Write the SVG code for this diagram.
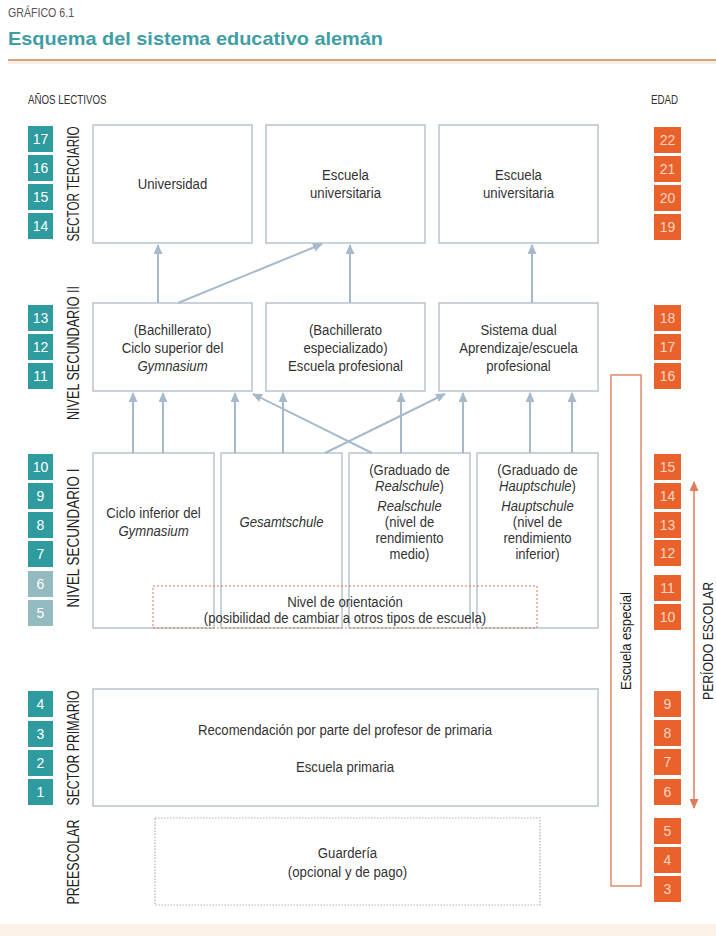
<svg xmlns="http://www.w3.org/2000/svg" width="716" height="936" viewBox="0 0 716 936">
<style>
text{font-family:"Liberation Sans",Arial,sans-serif;fill:#333}
.n{font-size:15.5px;text-anchor:middle}
.s{font-size:14.5px;text-anchor:middle}
.i{font-style:italic}
.box{fill:#fff;stroke:#b6c4ce;stroke-width:1.5}
.yr{fill:#2e9c9f}
.yl{fill:#93babe}
.ag{fill:#e9612b}
.yt{font-size:14px;text-anchor:middle;fill:#fff}
.at{font-size:14px;text-anchor:middle;fill:#fcd6c2}
.vl{font-size:16px;text-anchor:middle;fill:#222}
.con{stroke:#a6bacb;stroke-width:2;fill:none;marker-end:url(#ah)}
</style>
<defs>
<marker id="ah" markerUnits="userSpaceOnUse" markerWidth="10" markerHeight="9" refX="9" refY="4.5" orient="auto"><path d="M0,0 L10,4.5 L0,9 z" fill="#a6bacb"/></marker>
<marker id="oh" markerUnits="userSpaceOnUse" markerWidth="10" markerHeight="9" refX="9" refY="4.5" orient="auto-start-reverse"><path d="M0,0 L10,4.5 L0,9 z" fill="#e07a58"/></marker>
</defs>
<rect width="716" height="936" fill="#fff"/>
<g id="header">
<text transform="translate(8 17) scale(0.85 1)" style="font-size:12.5px;fill:#555">GRÁFICO 6.1</text>
<text x="8" y="45" textLength="375" lengthAdjust="spacingAndGlyphs" style="font-size:19px;font-weight:bold;fill:#3f9ea4">Esquema del sistema educativo alemán</text>
<line x1="8" y1="60" x2="716" y2="60" stroke="#c98556" stroke-width="1.5"/>
<rect x="8" y="61" width="708" height="3" fill="#fbeee4"/>
<text transform="translate(28 104) scale(0.75 1)" style="font-size:13px">AÑOS LECTIVOS</text>
<text transform="translate(651 104) scale(0.75 1)" style="font-size:13px">EDAD</text>
</g>
<g id="years">
<rect class="yr" x="28" y="126" width="25" height="26"/><text class="yt" x="40.5" y="144">17</text>
<rect class="yr" x="28" y="155" width="25" height="26"/><text class="yt" x="40.5" y="173">16</text>
<rect class="yr" x="28" y="184" width="25" height="26"/><text class="yt" x="40.5" y="202">15</text>
<rect class="yr" x="28" y="213" width="25" height="26"/><text class="yt" x="40.5" y="231">14</text>
<rect class="yr" x="28" y="305" width="25" height="26"/><text class="yt" x="40.5" y="323">13</text>
<rect class="yr" x="28" y="334" width="25" height="26"/><text class="yt" x="40.5" y="352">12</text>
<rect class="yr" x="28" y="363" width="25" height="26"/><text class="yt" x="40.5" y="381">11</text>
<rect class="yr" x="28" y="454" width="25" height="26"/><text class="yt" x="40.5" y="472">10</text>
<rect class="yr" x="28" y="483" width="25" height="26"/><text class="yt" x="40.5" y="501">9</text>
<rect class="yr" x="28" y="512" width="25" height="26"/><text class="yt" x="40.5" y="530">8</text>
<rect class="yr" x="28" y="541" width="25" height="26"/><text class="yt" x="40.5" y="559">7</text>
<rect class="yl" x="28" y="571" width="25" height="26"/><text class="yt" x="40.5" y="589">6</text>
<rect class="yl" x="28" y="600" width="25" height="26"/><text class="yt" x="40.5" y="618">5</text>
<rect class="yr" x="28" y="691" width="25" height="26"/><text class="yt" x="40.5" y="709">4</text>
<rect class="yr" x="28" y="721" width="25" height="26"/><text class="yt" x="40.5" y="739">3</text>
<rect class="yr" x="28" y="750" width="25" height="26"/><text class="yt" x="40.5" y="768">2</text>
<rect class="yr" x="28" y="779" width="25" height="26"/><text class="yt" x="40.5" y="797">1</text>
</g>
<g id="levels">
<text class="vl" transform="translate(79,184) rotate(-90)" textLength="115" lengthAdjust="spacingAndGlyphs">SECTOR TERCIARIO</text>
<text class="vl" transform="translate(79,353) rotate(-90)" textLength="134" lengthAdjust="spacingAndGlyphs">NIVEL SECUNDARIO II</text>
<text class="vl" transform="translate(79,538) rotate(-90)" textLength="139" lengthAdjust="spacingAndGlyphs">NIVEL SECUNDARIO I</text>
<text class="vl" transform="translate(79,748) rotate(-90)" textLength="115" lengthAdjust="spacingAndGlyphs">SECTOR PRIMARIO</text>
<text class="vl" transform="translate(79,862) rotate(-90)" textLength="85" lengthAdjust="spacingAndGlyphs">PREESCOLAR</text>
</g>
<g id="ages">
<rect class="ag" x="654" y="127" width="27" height="26"/><text class="at" x="667.5" y="145">22</text>
<rect class="ag" x="654" y="156" width="27" height="26"/><text class="at" x="667.5" y="174">21</text>
<rect class="ag" x="654" y="185" width="27" height="26"/><text class="at" x="667.5" y="203">20</text>
<rect class="ag" x="654" y="214" width="27" height="26"/><text class="at" x="667.5" y="232">19</text>
<rect class="ag" x="654" y="305" width="27" height="26"/><text class="at" x="667.5" y="323">18</text>
<rect class="ag" x="654" y="334" width="27" height="26"/><text class="at" x="667.5" y="352">17</text>
<rect class="ag" x="654" y="363" width="27" height="26"/><text class="at" x="667.5" y="381">16</text>
<rect class="ag" x="654" y="454" width="27" height="26"/><text class="at" x="667.5" y="472">15</text>
<rect class="ag" x="654" y="483" width="27" height="26"/><text class="at" x="667.5" y="501">14</text>
<rect class="ag" x="654" y="512" width="27" height="26"/><text class="at" x="667.5" y="530">13</text>
<rect class="ag" x="654" y="540" width="27" height="26"/><text class="at" x="667.5" y="558">12</text>
<rect class="ag" x="654" y="575" width="27" height="26"/><text class="at" x="667.5" y="593">11</text>
<rect class="ag" x="654" y="604" width="27" height="26"/><text class="at" x="667.5" y="622">10</text>
<rect class="ag" x="654" y="691" width="27" height="26"/><text class="at" x="667.5" y="709">9</text>
<rect class="ag" x="654" y="720" width="27" height="26"/><text class="at" x="667.5" y="738">8</text>
<rect class="ag" x="654" y="749" width="27" height="26"/><text class="at" x="667.5" y="767">7</text>
<rect class="ag" x="654" y="779" width="27" height="26"/><text class="at" x="667.5" y="797">6</text>
<rect class="ag" x="654" y="818" width="27" height="26"/><text class="at" x="667.5" y="836">5</text>
<rect class="ag" x="654" y="847" width="27" height="26"/><text class="at" x="667.5" y="865">4</text>
<rect class="ag" x="654" y="876" width="27" height="26"/><text class="at" x="667.5" y="894">3</text>
</g>
<g id="universidad"><rect class="box" x="93" y="125" width="159" height="118"/><text class="n" transform="translate(172.5 189) scale(0.85 1)">Universidad</text></g>
<g id="escuela-universitaria-1"><rect class="box" x="266" y="125" width="159" height="118"/><text class="n" transform="translate(345.5 180) scale(0.85 1)">Escuela</text><text class="n" transform="translate(345.5 198) scale(0.85 1)">universitaria</text></g>
<g id="escuela-universitaria-2"><rect class="box" x="439" y="125" width="159" height="118"/><text class="n" transform="translate(518.5 180) scale(0.85 1)">Escuela</text><text class="n" transform="translate(518.5 198) scale(0.85 1)">universitaria</text></g>
<g id="gymnasium-superior"><rect class="box" x="93" y="303" width="159" height="88"/><text class="n" transform="translate(172.5 335) scale(0.85 1)">(Bachillerato)</text><text class="n" transform="translate(172.5 353) scale(0.85 1)">Ciclo superior del</text><text class="n i" transform="translate(172.5 371) scale(0.85 1)">Gymnasium</text></g>
<g id="escuela-profesional"><rect class="box" x="266" y="303" width="159" height="88"/><text class="n" transform="translate(345.5 335) scale(0.85 1)">(Bachillerato</text><text class="n" transform="translate(345.5 353) scale(0.85 1)">especializado)</text><text class="n" transform="translate(345.5 371) scale(0.85 1)">Escuela profesional</text></g>
<g id="sistema-dual"><rect class="box" x="439" y="303" width="159" height="88"/><text class="n" transform="translate(518.5 335) scale(0.85 1)">Sistema dual</text><text class="n" transform="translate(518.5 353) scale(0.85 1)">Aprendizaje/escuela</text><text class="n" transform="translate(518.5 371) scale(0.85 1)">profesional</text></g>
<g id="gymnasium-inferior"><rect class="box" x="93" y="453" width="121" height="175"/><text class="n" transform="translate(153.5 518) scale(0.85 1)">Ciclo inferior del</text><text class="n i" transform="translate(153.5 536) scale(0.85 1)">Gymnasium</text></g>
<g id="gesamtschule"><rect class="box" x="221" y="453" width="121" height="175"/><text class="n i" transform="translate(281.5 527) scale(0.85 1)">Gesamtschule</text></g>
<g id="realschule"><rect class="box" x="349" y="453" width="121" height="175"/><text class="s" transform="translate(409.5 475) scale(0.9 1)">(Graduado de</text><text class="s" transform="translate(409.5 491) scale(0.9 1)"><tspan class="i">Realschule</tspan>)</text><text class="s i" transform="translate(409.5 511) scale(0.9 1)">Realschule</text><text class="s" transform="translate(409.5 527) scale(0.9 1)">(nivel de</text><text class="s" transform="translate(409.5 543) scale(0.9 1)">rendimiento</text><text class="s" transform="translate(409.5 559) scale(0.9 1)">medio)</text></g>
<g id="hauptschule"><rect class="box" x="477" y="453" width="121" height="175"/><text class="s" transform="translate(537.5 475) scale(0.9 1)">(Graduado de</text><text class="s" transform="translate(537.5 491) scale(0.9 1)"><tspan class="i">Hauptschule</tspan>)</text><text class="s i" transform="translate(537.5 511) scale(0.9 1)">Hauptschule</text><text class="s" transform="translate(537.5 527) scale(0.9 1)">(nivel de</text><text class="s" transform="translate(537.5 543) scale(0.9 1)">rendimiento</text><text class="s" transform="translate(537.5 559) scale(0.9 1)">inferior)</text></g>
<g id="orientacion"><rect x="153" y="586" width="384" height="42" fill="none" stroke="#e07050" stroke-width="1" stroke-dasharray="2 2"/><text class="n" transform="translate(345 607) scale(0.85 1)">Nivel de orientación</text><text class="n" transform="translate(345 623) scale(0.85 1)">(posibilidad de cambiar a otros tipos de escuela)</text></g>
<g id="primaria"><rect class="box" x="93" y="689" width="505" height="117"/><text class="n" transform="translate(345 735) scale(0.85 1)">Recomendación por parte del profesor de primaria</text><text class="n" transform="translate(345 772) scale(0.85 1)">Escuela primaria</text></g>
<g id="guarderia"><rect x="155" y="818" width="385" height="87" fill="none" stroke="#aab3bb" stroke-width="1.2" stroke-dasharray="1.5 1.5"/><text class="n" transform="translate(347.5 858) scale(0.85 1)">Guardería</text><text class="n" transform="translate(347.5 877) scale(0.85 1)">(opcional y de pago)</text></g>
<g id="escuela-especial"><rect x="611" y="375" width="30" height="511" fill="none" stroke="#e08a6a" stroke-width="1.5"/><text transform="translate(631,641) rotate(-90)" textLength="98" lengthAdjust="spacingAndGlyphs" style="font-size:15px;text-anchor:middle;fill:#222">Escuela especial</text></g>
<g id="periodo-escolar"><line x1="694" y1="808" x2="694" y2="482" stroke="#e07a58" stroke-width="1.5" marker-start="url(#oh)" marker-end="url(#oh)"/><text transform="translate(713,641) rotate(-90)" textLength="118" lengthAdjust="spacingAndGlyphs" style="font-size:15px;text-anchor:middle;fill:#222">PERÍODO ESCOLAR</text></g>
<g id="connectors">
<line class="con" x1="158" y1="303" x2="158" y2="245"/>
<line class="con" x1="178" y1="303" x2="322" y2="244"/>
<line class="con" x1="350" y1="303" x2="350" y2="245"/>
<line class="con" x1="532" y1="303" x2="532" y2="245"/>
<line class="con" x1="133" y1="453" x2="133" y2="393"/>
<line class="con" x1="163" y1="453" x2="163" y2="393"/>
<line class="con" x1="235" y1="453" x2="235" y2="393"/>
<line class="con" x1="283" y1="453" x2="283" y2="393"/>
<line class="con" x1="401" y1="453" x2="401" y2="393"/>
<line class="con" x1="463" y1="453" x2="463" y2="393"/>
<line class="con" x1="530" y1="453" x2="530" y2="393"/>
<line class="con" x1="572" y1="453" x2="572" y2="393"/>
<line class="con" x1="372" y1="453" x2="253" y2="394"/>
<line class="con" x1="325" y1="453" x2="445" y2="394"/>
</g>
<rect x="0" y="924" width="716" height="12" fill="#fdf2e8"/>
</svg>
